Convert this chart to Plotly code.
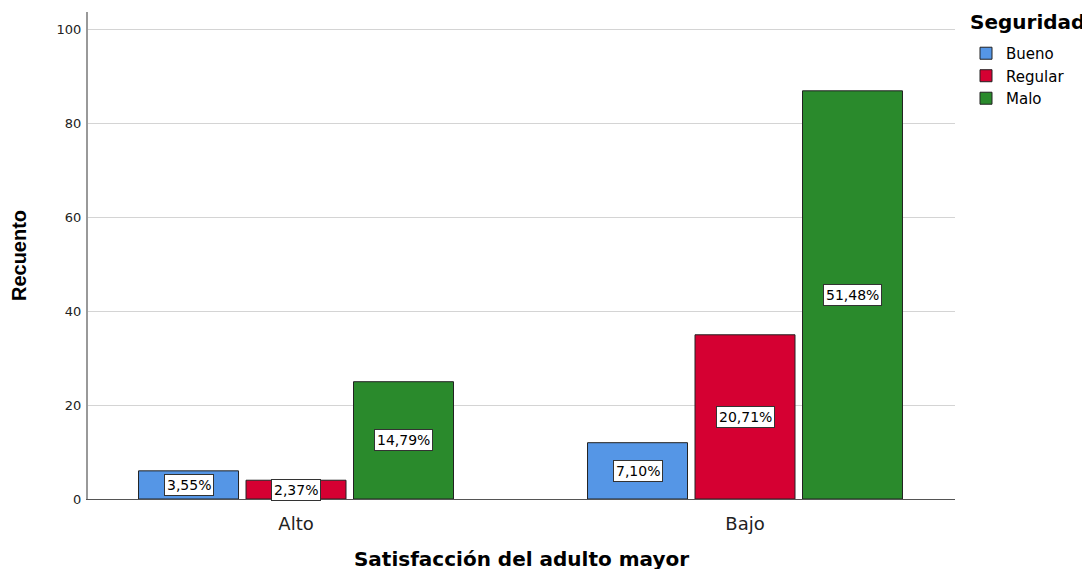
import plotly.graph_objects as go

categories = ["Alto", "Bajo"]
series_names = ["Bueno", "Regular", "Malo"]
bueno = [6, 12]
regular = [4, 35]
malo = [25, 87]
pct_bueno = ["3,55%", "7,10%"]
pct_regular = ["2,37%", "20,71%"]
pct_malo = ["14,79%", "51,48%"]
colors = ["#5596E6", "#D50032", "#2A8A2C"]

series = [bueno, regular, malo]
pcts = [pct_bueno, pct_regular, pct_malo]

bar_w = 0.2227
slot = 0.2394
xpos = list(range(len(categories)))
WIDE = "DejaVu Sans, Verdana, sans-serif"

fig = go.Figure()
annotations = []
for j, (name, vals, col, lab) in enumerate(zip(series_names, series, colors, pcts)):
    off = (j - 1) * slot
    fig.add_trace(go.Bar(
        x=xpos, y=vals, name=name,
        width=[bar_w] * len(vals), offset=[off - bar_w / 2] * len(vals),
        marker=dict(color=col, line=dict(color="#222222", width=1)),
        hoverinfo="skip",
    ))
    for i, v in enumerate(vals):
        annotations.append(dict(
            x=i + off, y=v / 2, xref="x", yref="y", text=lab[i], showarrow=False,
            font=dict(family=WIDE, size=14, color="black"),
            bgcolor="white", bordercolor="#333333", borderwidth=1, borderpad=2,
        ))

annotations.append(dict(
    x=1.015, y=0.9795, xref="paper", yref="paper", xanchor="left", yanchor="middle",
    text="<b>Seguridad</b>", showarrow=False, font=dict(family=WIDE, size=20, color="black"),
))

fig.update_layout(
    width=1090, height=569,
    paper_bgcolor="white", plot_bgcolor="white",
    margin=dict(l=80, r=143, t=4, b=78),
    barmode="overlay",
    font=dict(family=WIDE, color="black"),
    annotations=annotations,
    legend=dict(
        x=1.0127, y=0.9487, xanchor="left", yanchor="top",
        font=dict(size=15, family=WIDE),
        tracegroupgap=0, itemwidth=30,
    ),
    showlegend=True,
)
fig.update_xaxes(
    range=[-0.4633, 1.4677], tickvals=xpos, ticktext=categories,
    tickfont=dict(size=18, color="#222222"), showgrid=False,
    showline=True, linecolor="#555555", linewidth=1, zeroline=False,
    ticks="outside", ticklen=8, tickcolor="rgba(0,0,0,0)",
    title=dict(text="<b>Satisfacción del adulto mayor</b>", font=dict(size=20), standoff=19),
)
fig.update_yaxes(
    range=[0, 103.8], tickvals=[0, 20, 40, 60, 80, 100],
    tickfont=dict(size=13, color="#222222"),
    showgrid=True, gridcolor="#D4D4D4", gridwidth=1,
    showline=True, linecolor="#999999", linewidth=2, zeroline=False,
    ticks="outside", ticklen=2, tickcolor="rgba(0,0,0,0)",
    title=dict(text="<b>Recuento</b>", font=dict(size=20, family="Liberation Sans, Arial"), standoff=28),
)

fig.write_html("out.html")
